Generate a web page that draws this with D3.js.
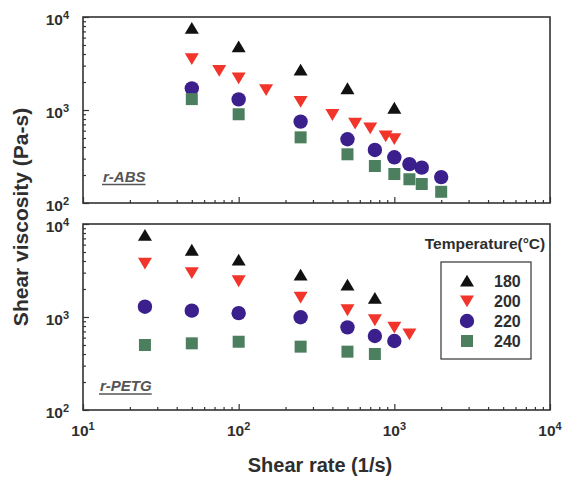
<!DOCTYPE html>
<html>
<head>
<meta charset="utf-8">
<script src="https://cdn.jsdelivr.net/npm/d3@7/dist/d3.min.js"></script>
<style>
  html, body { margin: 0; padding: 0; background: #fff; }
  svg { display: block; }
  text { font-family: "Liberation Sans", Arial, Helvetica, sans-serif; font-weight: bold; }
</style>
</head>
<body>
<svg id="chart" width="572" height="479"></svg>
<script>
// Shear viscosity (Pa-s) versus shear rate (1/s) for recycled ABS and PETG

const temperatures = ["180", "200", "220", "240"];

// r-ABS
const absRate180 = [50, 100, 250, 500, 1000];
const absVisc180 = [7600, 4800, 2700, 1700, 1050];
const absRate200 = [50, 75, 100, 150, 250, 400, 560, 700, 880, 1000];
const absVisc200 = [3550, 2650, 2200, 1650, 1230, 890, 720, 640, 525, 490];
const absRate220 = [50, 100, 250, 500, 750, 1000, 1250, 1500, 2000];
const absVisc220 = [1710, 1300, 750, 485, 372, 310, 262, 240, 190];
const absRate240 = [50, 100, 250, 500, 750, 1000, 1250, 1500, 2000];
const absVisc240 = [1310, 900, 508, 334, 250, 205, 180, 160, 132];

// r-PETG
const petgRate180 = [25, 50, 100, 250, 500, 750];
const petgVisc180 = [7600, 5250, 4100, 2830, 2210, 1590];
const petgRate200 = [25, 50, 100, 250, 500, 750, 1000, 1250];
const petgVisc200 = [3780, 2990, 2440, 1630, 1190, 930, 775, 656];
const petgRate220 = [25, 50, 100, 250, 500, 750, 1000];
const petgVisc220 = [1290, 1170, 1100, 993, 774, 625, 552];
const petgRate240 = [25, 50, 100, 250, 500, 750];
const petgVisc240 = [500, 521, 542, 480, 424, 400];

// Axis tick labels (mantissa 10, exponent)
const xTickValues = [10, 100, 1000, 10000];
const xTickExponents = ["1", "2", "3", "4"];
const yTickValues = [100, 1000, 10000];
const yTickExponents = ["2", "3", "4"];

const markerColors = ["#111111", "#f1352a", "#3b1f8c", "#4b7f5e"];
const markerShapes = ["up", "down", "circle", "square"];

function pairs(rates, viscs) {
  return rates.map((r, i) => ({ rate: r, visc: viscs[i] }));
}

const panels = [
  {
    name: "r-ABS",
    series: [
      pairs(absRate180, absVisc180),
      pairs(absRate200, absVisc200),
      pairs(absRate220, absVisc220),
      pairs(absRate240, absVisc240)
    ],
    top: 17, bottom: 203, showX: false, labelX: 103, labelY: 181.5
  },
  {
    name: "r-PETG",
    series: [
      pairs(petgRate180, petgVisc180),
      pairs(petgRate200, petgVisc200),
      pairs(petgRate220, petgVisc220),
      pairs(petgRate240, petgVisc240)
    ],
    top: 224, bottom: 410, showX: true, labelX: 100, labelY: 391
  }
];

const left = 83, right = 550;
const frameColor = "#333";
const textColor = "#2e2e2e";

const svg = d3.select("#chart");
svg.append("rect").attr("width", 572).attr("height", 479).attr("fill", "#fff");

const x = d3.scaleLog().domain([10, 10000]).range([left, right]);

function markerPath(shape) {
  if (shape === "up") return "M0,-6.2L7,5.6L-7,5.6Z";
  if (shape === "down") return "M0,6.2L7,-5.6L-7,-5.6Z";
  if (shape === "square") return "M-6,-6H6V6H-6Z";
  return d3.symbol(d3.symbolCircle, Math.PI * 7.2 * 7.2)();
}

function addPowerLabel(sel, exp) {
  sel.append("tspan").text("10");
  sel.append("tspan").attr("dy", -6).attr("font-size", 11).text(exp);
}

panels.forEach(p => {
  const y = d3.scaleLog().domain([100, 10000]).range([p.bottom, p.top]);
  const g = svg.append("g");

  // bottom axis: inward major and minor ticks
  const xMinor = x.ticks().filter(v => !xTickValues.includes(v));
  g.append("g").attr("transform", `translate(0,${p.bottom})`)
    .call(d3.axisBottom(x).tickValues(xMinor).tickSize(-3).tickFormat(""))
    .call(a => a.select(".domain").remove())
    .call(a => a.selectAll("line").attr("stroke", frameColor).attr("stroke-width", 1.2));
  g.append("g").attr("transform", `translate(0,${p.bottom})`)
    .call(d3.axisBottom(x).tickValues(xTickValues).tickSize(-6).tickFormat(""))
    .call(a => a.select(".domain").remove())
    .call(a => a.selectAll("line").attr("stroke", frameColor).attr("stroke-width", 1.2));

  // left axis: inward major and minor ticks
  const yMinor = y.ticks().filter(v => !yTickValues.includes(v));
  g.append("g").attr("transform", `translate(${left},0)`)
    .call(d3.axisLeft(y).tickValues(yMinor).tickSize(-3).tickFormat(""))
    .call(a => a.select(".domain").remove())
    .call(a => a.selectAll("line").attr("stroke", frameColor).attr("stroke-width", 1.2));
  g.append("g").attr("transform", `translate(${left},0)`)
    .call(d3.axisLeft(y).tickValues(yTickValues).tickSize(-6).tickFormat(""))
    .call(a => a.select(".domain").remove())
    .call(a => a.selectAll("line").attr("stroke", frameColor).attr("stroke-width", 1.2));

  // frame
  g.append("rect")
    .attr("x", left).attr("y", p.top)
    .attr("width", right - left).attr("height", p.bottom - p.top)
    .attr("fill", "none").attr("stroke", frameColor).attr("stroke-width", 1.6);

  // y tick labels
  yTickValues.forEach((v, i) => {
    const t = g.append("text")
      .attr("x", 69).attr("y", y(v) + 7.5)
      .attr("text-anchor", "end").attr("font-size", 15.5).attr("fill", textColor);
    addPowerLabel(t, yTickExponents[i]);
  });

  // x tick labels (lower panel only)
  if (p.showX) {
    xTickValues.forEach((v, i) => {
      const t = g.append("text")
        .attr("x", x(v)).attr("y", 436)
        .attr("text-anchor", "middle").attr("font-size", 15.5).attr("fill", textColor);
      addPowerLabel(t, xTickExponents[i]);
    });
  }

  // material label, underlined
  const lbl = g.append("text")
    .attr("x", p.labelX).attr("y", p.labelY)
    .attr("font-size", 15).attr("font-style", "italic")
    .attr("fill", "#555").text(p.name);
  const w = lbl.node().getComputedTextLength();
  g.append("line")
    .attr("x1", p.labelX - 1).attr("x2", p.labelX + w)
    .attr("y1", p.labelY + 3).attr("y2", p.labelY + 3)
    .attr("stroke", "#555").attr("stroke-width", 1.6);

  // data markers
  p.series.forEach((s, si) => {
    g.append("g").selectAll("path")
      .data(s).join("path")
      .attr("transform", d => `translate(${x(d.rate)},${y(d.visc)})`)
      .attr("d", markerPath(markerShapes[si]))
      .attr("fill", markerColors[si]);
  });
});

// legend
const legend = svg.append("g");
legend.append("text")
  .attr("x", 485).attr("y", 249).attr("text-anchor", "middle")
  .attr("font-size", 15.5).attr("fill", textColor)
  .text("Temperature(°C)");
legend.append("rect")
  .attr("x", 441).attr("y", 262).attr("width", 90).attr("height", 97)
  .attr("fill", "none").attr("stroke", frameColor).attr("stroke-width", 1.2);
temperatures.forEach((t, i) => {
  const cy = 281 + i * 20;
  legend.append("path")
    .attr("transform", `translate(467,${cy})`)
    .attr("d", markerPath(markerShapes[i]))
    .attr("fill", markerColors[i]);
  legend.append("text")
    .attr("x", 494).attr("y", cy + 5.8)
    .attr("font-size", 16).attr("fill", textColor).text(t);
});

// axis titles
svg.append("text")
  .attr("x", 320).attr("y", 472).attr("text-anchor", "middle")
  .attr("font-size", 20).attr("fill", textColor)
  .text("Shear rate (1/s)");
svg.append("text")
  .attr("transform", "translate(28,217) rotate(-90)")
  .attr("text-anchor", "middle")
  .attr("font-size", 21).attr("fill", textColor)
  .text("Shear viscosity (Pa-s)");
</script>
</body>
</html>
